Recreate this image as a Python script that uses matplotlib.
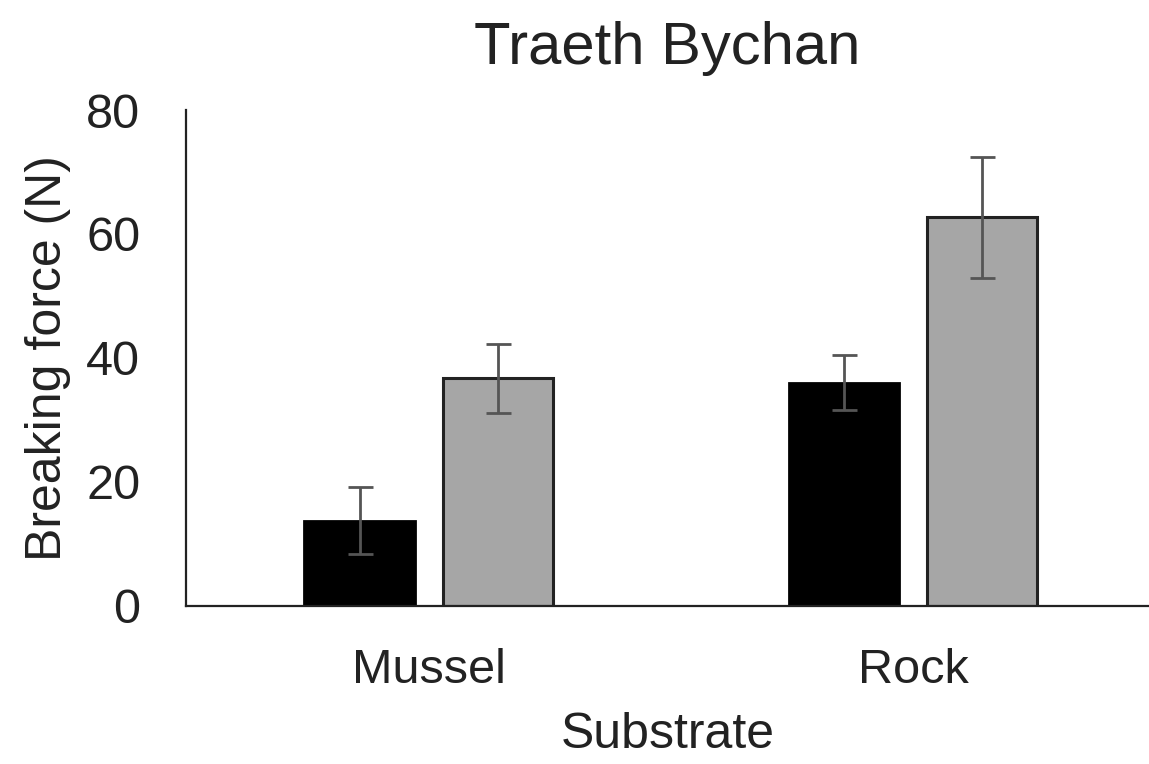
import numpy as np
import matplotlib.pyplot as plt

plt.rcParams['font.family'] = ['Liberation Sans', 'DejaVu Sans']

# values
substrates = ['Mussel', 'Rock']
black_means = [13.7, 36.0]
black_err = [5.4, 4.4]
grey_means = [36.7, 62.7]
grey_err = [5.6, 9.8]
yticks = [0, 20, 40, 60, 80]

fig = plt.figure(figsize=(11.49, 7.64), dpi=100)
ax = fig.add_axes([0.162, 0.207, 0.838, 0.649])

x = np.arange(len(substrates))
w = 0.227
off = 0.1424
ekw = dict(ecolor='#555555', elinewidth=2, capsize=9, capthick=2)

ax.bar(x - off, black_means, w, color='black', edgecolor='black', linewidth=2,
       yerr=black_err, error_kw=ekw)
ax.bar(x + off, grey_means, w, color='#a6a6a6', edgecolor='#222222', linewidth=2.2,
       yerr=grey_err, error_kw=ekw)

ax.set_xlim(-0.5, 1.486)
ax.set_ylim(0, 80)
ax.set_yticks(yticks)
ax.set_xticks(x)
ax.set_xticklabels(substrates)
ax.tick_params(length=0, labelsize=35, colors='#222222')
ax.tick_params(axis='y', pad=33)
ax.tick_params(axis='x', pad=30)

for s in ['top', 'right']:
    ax.spines[s].set_visible(False)
for s in ['left', 'bottom']:
    ax.spines[s].set_linewidth(1.6)
    ax.spines[s].set_color('#222222')

ax.set_ylabel('Breaking force (N)', fontsize=36, color='#222222', labelpad=11)
ax.set_xlabel('Substrate', fontsize=36, color='#222222', labelpad=14)
ax.set_title('Traeth Bychan', fontsize=43, color='#222222', pad=33)

fig.savefig('out.png', dpi=100)
